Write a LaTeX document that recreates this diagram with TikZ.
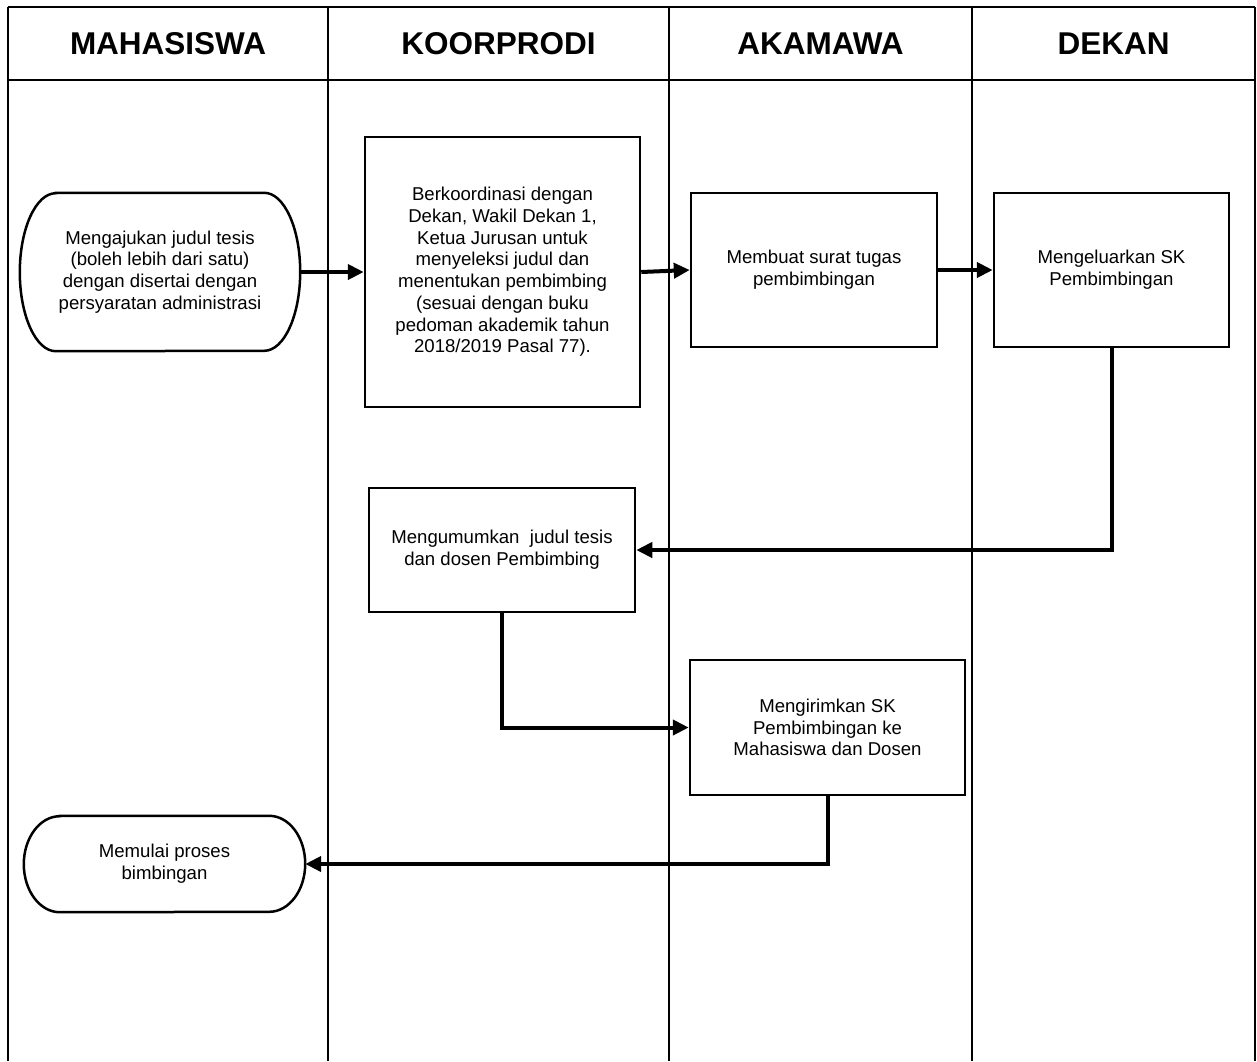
\documentclass[tikz,border=0pt]{standalone}
\usepackage{fontspec}
\setmainfont{Liberation Sans}
\usetikzlibrary{arrows.meta}
\begin{document}
\begin{tikzpicture}[x=1pt,y=-1pt,
  lane/.style={line width=2pt},
  hdr/.style={font=\fontsize{31.5}{36}\selectfont\bfseries, inner sep=0pt},
  proc/.style={draw, line width=2.5pt, align=center, inner sep=0pt,
               font=\fontsize{18.6}{21.7}\selectfont},
  termtext/.style={align=center, inner sep=0pt,
               font=\fontsize{18.6}{21.7}\selectfont},
  outline/.style={line width=2.5pt},
  flow/.style={line width=4pt, -{Triangle[length=16pt,width=15pt]}}]
\useasboundingbox (0,0) rectangle (1257,1061);
\fill[white] (0,0) rectangle (1257,1061);

% swimlane frame
\draw[lane] (8,7) -- (1255,7);
\draw[lane] (8,80) -- (1255,80);
\foreach \x in {8,328,669,972,1255} \draw[lane] (\x,7) -- (\x,1061);

% headers
\node[hdr] (h1) at (168,43.5) {MAHASISWA};
\node[hdr] (h2) at (498.5,43.5) {KOORPRODI};
\node[hdr] (h3) at (820.5,43.5) {AKAMAWA};
\node[hdr] (h4) at (1113.5,43.5) {DEKAN};

% start terminal
\node[termtext, minimum width=280pt, minimum height=158pt] (t1) at (160,272)
  {Mengajukan judul tesis\\(boleh lebih dari satu)\\dengan disertai dengan\\persyaratan administrasi};
\draw[outline] ([xshift=36pt]t1.north west) -- ([xshift=-36pt]t1.north east)
  arc[start angle=90,end angle=-90,x radius=36pt,y radius=79pt]
  -- ([xshift=36pt]t1.south west)
  arc[start angle=270,end angle=90,x radius=36pt,y radius=79pt] -- cycle;

% processes
\node[proc, minimum width=275pt, minimum height=270pt] (k) at (502.5,272)
  {Berkoordinasi dengan\\Dekan, Wakil Dekan 1,\\Ketua Jurusan untuk\\menyeleksi judul dan\\menentukan pembimbing\\(sesuai dengan buku\\pedoman akademik tahun\\2018/2019 Pasal 77).};
\node[proc, minimum width=246pt, minimum height=154pt] (a) at (814,270)
  {Membuat surat tugas\\pembimbingan};
\node[proc, minimum width=235pt, minimum height=154pt] (d) at (1111.5,270)
  {Mengeluarkan SK\\Pembimbingan};
\node[proc, minimum width=266pt, minimum height=124pt] (m) at (502,550)
  {Mengumumkan~ judul tesis\\dan dosen Pembimbing};
\node[proc, minimum width=275pt, minimum height=135pt] (s) at (827.5,727.5)
  {Mengirimkan SK\\Pembimbingan ke\\Mahasiswa dan Dosen};

% end terminal
\node[termtext, minimum width=281pt, minimum height=96pt] (t2) at (164.5,864)
  {Memulai proses\\bimbingan};
\draw[outline] ([xshift=36pt]t2.north west) -- ([xshift=-36pt]t2.north east)
  arc[start angle=90,end angle=-90,x radius=36pt,y radius=48pt]
  -- ([xshift=36pt]t2.south west)
  arc[start angle=270,end angle=90,x radius=36pt,y radius=48pt] -- cycle;

% connectors
\draw[flow] (t1.east) -- (k.west);
\draw[flow] (k.east) -- (a.west);
\draw[flow] (a.east) -- (d.west);
\draw[flow] (d.south) |- (m.east);
\draw[flow] (m.south) |- (s.west);
\draw[flow] (s.south) |- (t2.east);
\end{tikzpicture}
\end{document}
